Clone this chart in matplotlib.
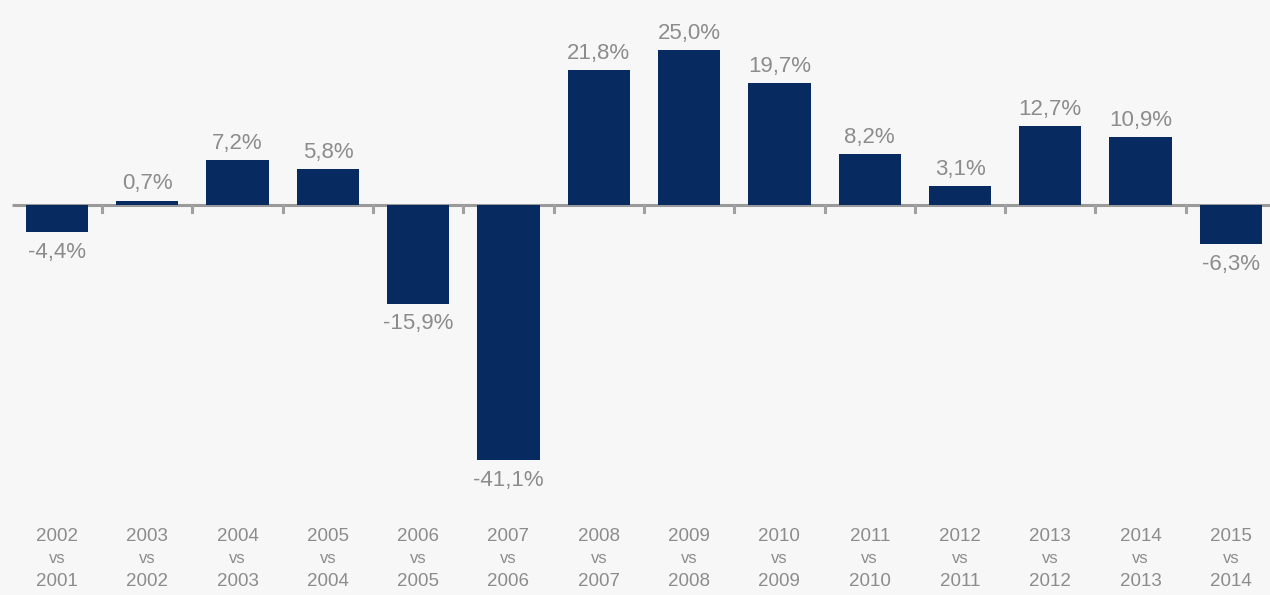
import numpy as np
import matplotlib.pyplot as plt

plt.rcParams['font.family'] = ['Liberation Sans', 'DejaVu Sans']

# year-on-year change
years = ["2002", "2003", "2004", "2005", "2006", "2007", "2008",
         "2009", "2010", "2011", "2012", "2013", "2014", "2015"]
prev_years = ["2001", "2002", "2003", "2004", "2005", "2006", "2007",
              "2008", "2009", "2010", "2011", "2012", "2013", "2014"]
changes = [-4.4, 0.7, 7.2, 5.8, -15.9, -41.1, 21.8,
           25.0, 19.7, 8.2, 3.1, 12.7, 10.9, -6.3]

bar_color = "#072a60"
text_color = "#8c8c8c"
bg = "#f7f7f7"

fig = plt.figure(figsize=(12.7, 5.95), dpi=100, facecolor=bg)
ax = fig.add_axes([0, 0, 1, 1], facecolor=bg)

x = np.arange(len(changes))
ax.bar(x, changes, width=0.69, color=bar_color, zorder=3)

# zero line with little ticks between the bars
ax.plot([-0.5, 13.6], [0, 0], color="#9a9a9a", lw=2.2, zorder=2,
        solid_capstyle="butt")
for m in x[:-1] + 0.5:
    ax.plot([m, m], [0, -1.2], color="#a0a0a0", lw=2.2, zorder=2)

for xi, v in zip(x, changes):
    lab = ("%.1f%%" % v).replace(".", ",")
    if v >= 0:
        ax.text(xi, v + 1.0, lab, ha="center", va="bottom",
                fontsize=16, color=text_color)
    else:
        ax.text(xi, v - 1.6, lab, ha="center", va="top",
                fontsize=16, color=text_color)

for xi, a, b in zip(x, years, prev_years):
    ax.text(xi, -53.5, a, ha="center", va="center", fontsize=13.5, color=text_color)
    ax.text(xi, -57.0, "vs", ha="center", va="center", fontsize=12, color=text_color)
    ax.text(xi, -60.8, b, ha="center", va="center", fontsize=13.5, color=text_color)

# pixel mapping: bar 1 centre at 57px, 90.3px per bar; zero at 205px, 6.2px per %
ax.set_xlim(-57 / 90.3, (1270 - 57) / 90.3)
ax.set_ylim(-(595 - 205) / 6.2, 205 / 6.2)
ax.axis("off")

fig.savefig("out.png", dpi=100, facecolor=bg)
